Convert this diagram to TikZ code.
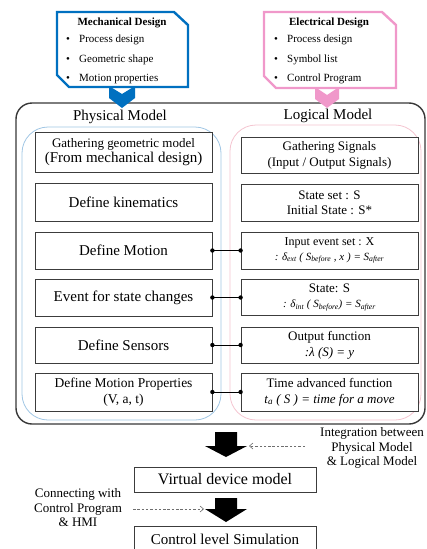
\documentclass[tikz,border=0pt]{standalone}
\usepackage{fontspec}
\setmainfont{Liberation Serif}
\usetikzlibrary{arrows.meta,calc}

\definecolor{mechblue}{RGB}{0,112,192}
\definecolor{elecpink}{RGB}{240,152,202}
\definecolor{physline}{RGB}{160,198,228}
\definecolor{logline}{RGB}{244,196,208}
\definecolor{frameline}{RGB}{55,55,55}
\definecolor{boxline}{RGB}{60,60,60}
\definecolor{dashline}{RGB}{110,110,110}

\newcommand{\fsz}[2]{\fontsize{#1}{#2}\selectfont}
\newcommand{\bul}{\makebox[13pt][l]{•}}

\begin{document}
\begin{tikzpicture}[x=1pt,y=-1pt,
  stepbox/.style={draw=boxline, line width=0.8pt, minimum width=177pt,
    inner sep=0pt, align=center, fill=white},
  designhead/.style={font=\fsz{11}{13}\bfseries, inner sep=0pt},
  designitem/.style={font=\fsz{11}{13}, anchor=west, inner sep=0pt},
  modeltitle/.style={font=\fsz{15}{17}, inner sep=0pt},
  sidenote/.style={font=\fsz{13}{14.5}, align=center, inner sep=0pt},
  link/.style={draw=black, line width=0.7pt},
  linkdot/.style={fill=black},
  blockarrow/.style={fill=black},
  dasharrow/.style={draw=dashline, line width=0.6pt, dash pattern=on 2.5pt off 1.8pt,
    -{Straight Barb[length=3.5pt,width=6pt,line width=0.6pt]}},
]
\useasboundingbox (0,0) rectangle (427,549);
\clip (0,0) rectangle (427,549);

% ---------- outer frame and the two model areas ----------
\draw[frameline, line width=1.4pt, rounded corners=16pt] (16,103) rectangle (425,424);
\draw[physline, line width=0.8pt, rounded corners=26pt] (22,127) rectangle (221,420);
\draw[logline, line width=0.8pt, rounded corners=26pt] (230,125) rectangle (421,420);

% ---------- design inputs ----------
\draw[mechblue, line width=2.4pt, fill=white, line join=miter]
  (57,12) -- (174,12) -- (188,25) -- (188,87) -- (69,87) -- (57,75) -- cycle;
\draw[elecpink, line width=2.4pt, fill=white, line join=miter]
  (264,12) -- (382,12) -- (396,25) -- (396,88) -- (276,88) -- (264,76) -- cycle;

\fill[mechblue] (109,86) -- (122,94) -- (135,86) -- (135,98) -- (122,108) -- (109,98) -- cycle;
\fill[elecpink] (315,87) -- (327,95) -- (339,87) -- (339,99) -- (327,108) -- (315,99) -- cycle;

\node[designhead] (mechhead) at (122,23) {Mechanical Design};
\node[designitem] (mech1) at (66,40) {\bul Process design};
\node[designitem] (mech2) at (66,60) {\bul Geometric shape};
\node[designitem] (mech3) at (66,79) {\bul Motion properties};

\node[designhead] (elechead) at (329,23) {Electrical Design};
\node[designitem] (elec1) at (274,40) {\bul Process design};
\node[designitem] (elec2) at (274,60) {\bul Symbol list};
\node[designitem] (elec3) at (274,79) {\bul Control Program};

% ---------- model titles ----------
\node[modeltitle] (phys) at (120,117) {Physical Model};
\node[modeltitle] (logic) at (328,116) {Logical Model};

% ---------- physical model steps ----------
\node[stepbox, minimum height=40pt] (L1) at (123.5,152)
  {\fsz{13}{16}Gathering geometric model\\\fsz{15}{16}(From mechanical design)};
\node[stepbox, minimum height=38pt, font=\fsz{15}{17}] (L2) at (123.5,202) {Define kinematics};
\node[stepbox, minimum height=37pt, font=\fsz{15}{17}] (L3) at (123.5,250.5) {Define Motion};
\node[stepbox, minimum height=37pt, font=\fsz{15}{17}] (L4) at (123.5,297.5) {Event for state changes};
\node[stepbox, minimum height=36pt, font=\fsz{15}{17}] (L5) at (123.5,345) {Define Sensors};
\node[stepbox, minimum height=38pt, font=\fsz{13.5}{16}] (L6) at (123.5,392)
  {Define Motion Properties\\(V, a, t)};

% ---------- logical model steps ----------
\node[stepbox, minimum height=36pt, font=\fsz{13}{16}] (R1) at (329.5,155)
  {Gathering Signals\\(Input / Output Signals)};
\node[stepbox, minimum height=37pt, font=\fsz{13}{15}] (R2) at (329.5,202.5)
  {State set : S\\Initial State : S*};
\node[stepbox, minimum height=37pt, font=\fsz{12}{15}] (R3) at (329.5,250.5)
  {Input event set : X\\{\fsz{11}{15}\itshape : δ\textsubscript{ext} ( S\textsubscript{before} , x ) = S\textsubscript{after}}};
\node[stepbox, minimum height=36pt, font=\fsz{13}{15}] (R4) at (329.5,297.5)
  {State: S\\{\fsz{11}{15}\itshape : δ\textsubscript{int} ( S\textsubscript{before}) = S\textsubscript{after}}};
\node[stepbox, minimum height=36pt, font=\fsz{13}{16}] (R5) at (329.5,345)
  {Output function\\{\itshape :λ (S) = y}};
\node[stepbox, minimum height=38pt, font=\fsz{13}{16}] (R6) at (329.5,392)
  {Time advanced function\\{\itshape t\textsubscript{a} ( S ) = time for a move}};

% ---------- links between the two models ----------
\foreach \k in {3,4,5,6}{
  \draw[link] (L\k.east) -- (L\k.east -| R\k.west);
  \fill[linkdot] (L\k.east) circle (2.2pt);
  \fill[linkdot] (L\k.east -| R\k.west) circle (2.2pt);
}

% ---------- integration and simulation ----------
\node[stepbox, minimum width=182pt, minimum height=25pt, font=\fsz{16}{18}] (vdm) at (225,479.5)
  {Virtual device model};
\node[stepbox, minimum width=182pt, minimum height=27pt, font=\fsz{15}{17}] (cls) at (225,539.5)
  {Control level Simulation};

\fill[blockarrow] (215,432) -- (237,432) -- (237,446) -- (247,446) -- (226,457)
  -- (205,446) -- (215,446) -- cycle;
\fill[blockarrow] (215,498) -- (237,498) -- (237,509) -- (247,509) -- (226,522)
  -- (205,509) -- (215,509) -- cycle;

\node[sidenote] (integ) at (372,448)
  {Integration between\\Physical Model\\\& Logical Model};
\node[sidenote] (connect) at (78,508)
  {Connecting with\\Control Program\\\& HMI};

\coordinate (integfrom) at (305,446);
\coordinate (integto) at (249,446);
\coordinate (connfrom) at (133,509);
\coordinate (connto) at (204,509);
\draw[dasharrow] (integfrom) -- (integto);
\draw[dasharrow] (connfrom) -- (connto);
\end{tikzpicture}
\end{document}
